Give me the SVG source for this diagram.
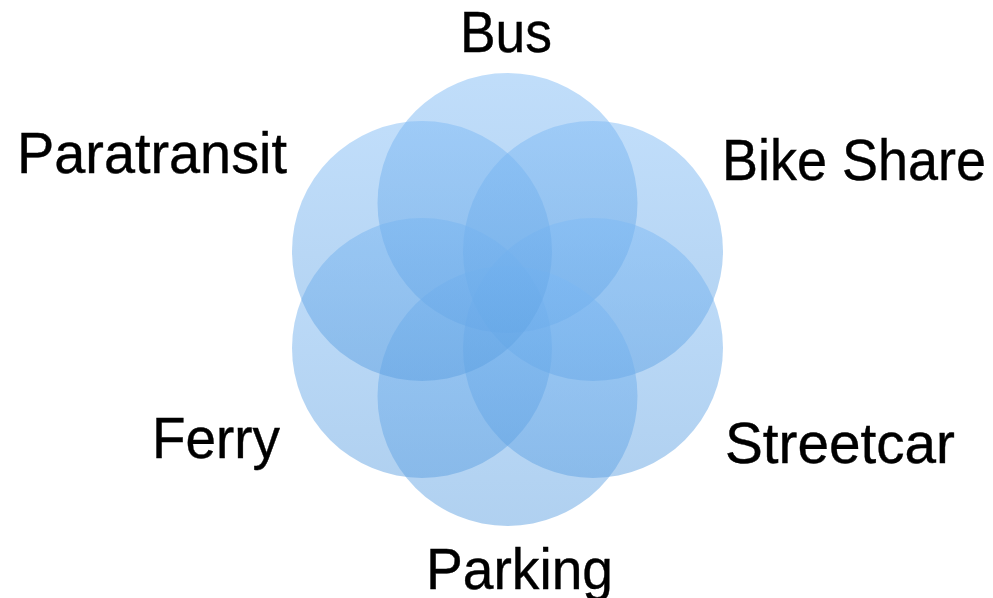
<svg xmlns="http://www.w3.org/2000/svg" width="993" height="598" viewBox="0 0 993 598">
  <defs>
    <linearGradient id="g" x1="0" y1="0" x2="0" y2="1">
      <stop offset="0" stop-color="#7cb9f5"/>
      <stop offset="1" stop-color="#5a9ee0"/>
    </linearGradient>
    <style>
      .c { fill: url(#g); fill-opacity: 0.48; }
      .t { font-family: "Liberation Sans", Arial, sans-serif; font-size: 58px; fill: #000; stroke: #000; stroke-width: 0.4px; }
    </style>
  </defs>
  <rect width="993" height="598" fill="#fff"/>
  <g id="bus"><circle class="c" cx="507.5" cy="203" r="130"/><text class="t" x="460" y="51.5" textLength="92" lengthAdjust="spacingAndGlyphs">Bus</text></g>
  <g id="bike-share"><circle class="c" cx="593" cy="251" r="130"/><text class="t" x="722" y="180" textLength="264" lengthAdjust="spacingAndGlyphs">Bike Share</text></g>
  <g id="streetcar"><circle class="c" cx="593" cy="348" r="130"/><text class="t" x="725" y="463" textLength="230" lengthAdjust="spacingAndGlyphs">Streetcar</text></g>
  <g id="parking"><circle class="c" cx="507.5" cy="396" r="130"/><text class="t" x="426" y="589" textLength="187" lengthAdjust="spacingAndGlyphs">Parking</text></g>
  <g id="ferry"><circle class="c" cx="422" cy="348" r="130"/><text class="t" x="152" y="458" textLength="128" lengthAdjust="spacingAndGlyphs">Ferry</text></g>
  <g id="paratransit"><circle class="c" cx="422" cy="251" r="130"/><text class="t" x="17" y="173" textLength="270" lengthAdjust="spacingAndGlyphs">Paratransit</text></g>
  <g id="connectors"></g>
</svg>
